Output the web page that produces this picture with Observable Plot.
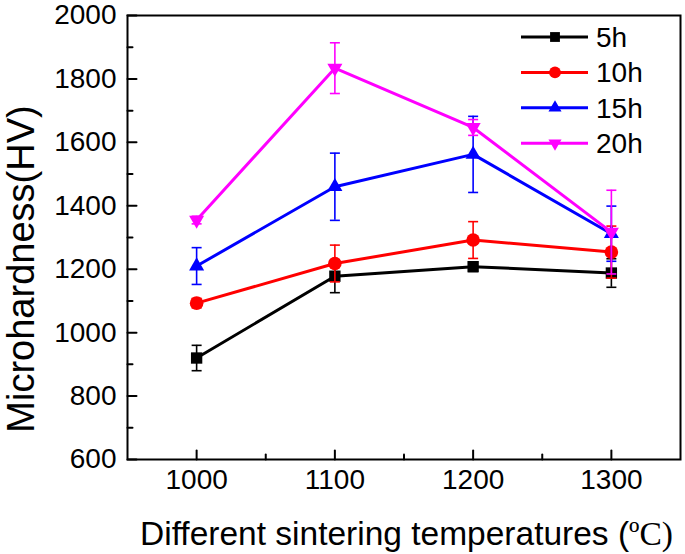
<!DOCTYPE html>
<html><head><meta charset="utf-8">
<script src="https://cdn.jsdelivr.net/npm/d3@7"></script>
<script src="https://cdn.jsdelivr.net/npm/@observablehq/plot@0.6"></script>
<style>body{margin:0;background:#fff}</style>
</head><body><div id="chart"></div>
<script>
// ---- data ----
const temps = [1000, 1100, 1200, 1300];
const h5  = [920, 1178, 1208, 1188];
const e5  = [40, 52, 15, 45];
const h10 = [1093, 1218, 1292, 1254];
const e10 = [15, 58, 58, 82];
const h15 = [1210, 1460, 1562, 1312];
const e15 = [58, 106, 120, 87];
const h20 = [1355, 1834, 1647, 1317];
const e20 = [12, 80, 25, 132];

const seriesNames = ["5h", "10h", "15h", "20h"];
const seriesColors = ["#000000", "#ff0000", "#0000ff", "#ff00ff"];
const seriesSymbols = ["square", "circle", "triangle", "triangle"];
const seriesRotate = [0, 0, 0, 180];
const seriesR = [6.4, 6.8, 5.6, 5.6];
const hardness = [h5, h10, h15, h20];
const errors = [e5, e10, e15, e20];

const xTicks = [1000, 1100, 1200, 1300];
const xMinorTicks = [1050, 1150, 1250];
const yTicks = [600, 800, 1000, 1200, 1400, 1600, 1800, 2000];
const yMinorTicks = [700, 900, 1100, 1300, 1500, 1700, 1900];

const xTitle = "Different sintering temperatures (";
const xTitleUnit = "ºC)";
const yTitle = "Microhardness(HV)";

// ---- build ----
const capSymbol = {draw(ctx) { ctx.moveTo(-5, 0); ctx.lineTo(5, 0); }};
const tickShape = {draw(ctx, l) { ctx.moveTo(0, 0); ctx.lineTo(0, -l); }};
const font = "Liberation Sans, Arial, Helvetica, sans-serif";

const marks = [];
seriesNames.forEach((name, i) => {
  const rows = temps.map((t, j) => ({t, v: hardness[i][j], e: errors[i][j]}));
  const c = seriesColors[i];
  marks.push(
    Plot.ruleX(rows, {x: "t", y1: d => d.v - d.e, y2: d => d.v + d.e, stroke: c, strokeWidth: 1.6}),
    Plot.dot(rows, {x: "t", y: d => d.v + d.e, symbol: capSymbol, stroke: c, strokeWidth: 1.6, fill: "none"}),
    Plot.dot(rows, {x: "t", y: d => d.v - d.e, symbol: capSymbol, stroke: c, strokeWidth: 1.6, fill: "none"}),
    Plot.line(rows, {x: "t", y: "v", stroke: c, strokeWidth: 3}),
    Plot.dot(rows, {x: "t", y: "v", symbol: seriesSymbols[i], rotate: seriesRotate[i], r: seriesR[i], fill: c, stroke: "none"})
  );
});

const fmt = d => String(d);
const chart = Plot.plot({
  width: 685,
  height: 554,
  marginLeft: 127,
  marginRight: 5,
  marginTop: 15,
  marginBottom: 95,
  style: {fontFamily: font, fontSize: "28px", background: "white", color: "black"},
  x: {domain: [950, 1350], label: null},
  y: {domain: [600, 2000], label: null},
  marks: [
    ...marks,
    Plot.axisY(yTicks, {tickSize: 0, tickPadding: 11, tickFormat: fmt, fontSize: 28, label: null}),
    Plot.axisX(xTicks, {tickSize: 0, tickPadding: 10, tickFormat: fmt, fontSize: 28, label: null}),
    Plot.vector(yTicks, {y: d => d, frameAnchor: "left", rotate: 90, length: 9, anchor: "start", shape: tickShape, stroke: "black", strokeWidth: 2}),
    Plot.vector(yMinorTicks, {y: d => d, frameAnchor: "left", rotate: 90, length: 5, anchor: "start", shape: tickShape, stroke: "black", strokeWidth: 2}),
    Plot.vector(xTicks, {x: d => d, frameAnchor: "bottom", rotate: 0, length: 9, anchor: "start", shape: tickShape, stroke: "black", strokeWidth: 2}),
    Plot.vector(xMinorTicks, {x: d => d, frameAnchor: "bottom", rotate: 0, length: 5, anchor: "start", shape: tickShape, stroke: "black", strokeWidth: 2}),
    Plot.frame({stroke: "black", strokeWidth: 2})
  ]
});
document.getElementById("chart").appendChild(chart);

// ---- titles & legend ----
const svg = d3.select(chart);
const xs = chart.scale("x"), ys = chart.scale("y");
const fLeft = xs.range[0], fRight = xs.range[1];
const fTop = ys.range[1], fBottom = ys.range[0];

svg.append("text")
  .attr("transform", `translate(34,${(fTop + fBottom) / 2 + 32}) rotate(-90)`)
  .attr("text-anchor", "middle")
  .attr("font-size", 38)
  .attr("font-family", font)
  .attr("fill", "black")
  .text(yTitle);

const xt = svg.append("text")
  .attr("x", (fLeft + fRight) / 2 + 3)
  .attr("y", 545)
  .attr("text-anchor", "middle")
  .attr("font-size", 33.5)
  .attr("font-family", font)
  .attr("fill", "black");
xt.append("tspan").text(xTitle);
xt.append("tspan").attr("font-family", "Liberation Serif, Times New Roman, serif").text(xTitleUnit);

const symMap = {square: d3.symbolSquare, circle: d3.symbolCircle, triangle: d3.symbolTriangle};
const lg = svg.append("g").attr("text-anchor", "start");
seriesNames.forEach((name, i) => {
  const y = fTop + 22 + i * 35.4;
  const g = lg.append("g");
  g.append("line").attr("x1", fRight - 159).attr("x2", fRight - 92).attr("y1", y).attr("y2", y)
    .attr("stroke", seriesColors[i]).attr("stroke-width", 3);
  g.append("path")
    .attr("d", d3.symbol(symMap[seriesSymbols[i]], Math.PI * seriesR[i] * seriesR[i] * 0.75)())
    .attr("transform", `translate(${fRight - 125},${y}) rotate(${seriesRotate[i]})`)
    .attr("fill", seriesColors[i]);
  g.append("text").attr("x", fRight - 84).attr("y", y).attr("dy", "0.36em")
    .attr("text-anchor", "start")
    .attr("font-size", 28).attr("font-family", font).attr("fill", "black").text(name);
});
</script>
</body></html>
